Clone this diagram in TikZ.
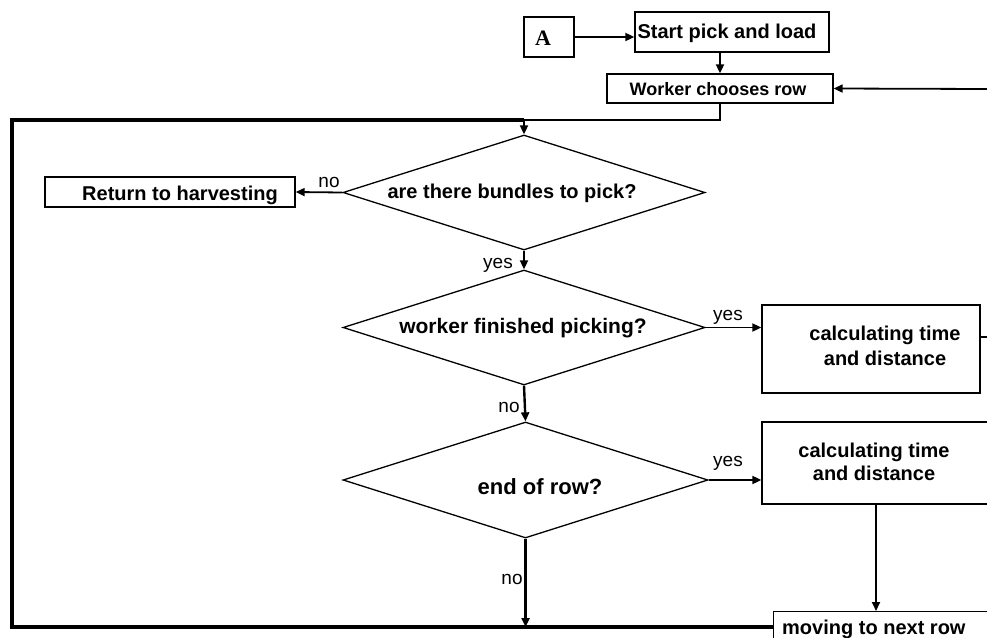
\documentclass[tikz,border=0pt]{standalone}
\usepackage{fontspec}
\setmainfont{Liberation Sans}
\newfontfamily\tms{Liberation Serif}
\usetikzlibrary{shapes.geometric,arrows.meta,calc}
\begin{document}
\begin{tikzpicture}[x=1pt,y=-1pt,
  box/.style={draw, line width=1.3pt, inner sep=0pt},
  dia/.style={draw, diamond, aspect=3.15, inner sep=0pt, line width=1.3pt},
  txt/.style={font=\bfseries\fontsize{20}{25}\selectfont, align=center, inner sep=0pt},
  lbl/.style={font=\fontsize{19}{22}\selectfont, inner sep=0pt},
  arr/.style={line width=1.8pt, -{Triangle[length=9pt,width=8pt]}},
  loopline/.style={line width=3.2pt}]
\useasboundingbox (0,0) rectangle (987,637);
% boxes
\node[box, minimum width=50pt, minimum height=40pt] (a) at (549,37) {};
\node[inner sep=0pt, font=\tms\bfseries\fontsize{22}{25}\selectfont] (at) at (543,38) {A};
\node[box, minimum width=194pt, minimum height=40pt] (st) at (732,32) {};
\node[txt] (stt) at (727,33) {Start pick and load};
\node[box, minimum width=226pt, minimum height=29pt] (wk) at (720,88.5) {};
\node[txt, font=\bfseries\fontsize{18}{22}\selectfont] (wkt) at (718,89) {Worker chooses row};
\node[box, minimum width=250pt, minimum height=30pt] (rt) at (170,192) {};
\node[txt] (rtt) at (180,195) {Return to harvesting};
\node[dia, minimum width=362pt, minimum height=115pt] (d1) at (524,192.5) {};
\node[txt] (d1t) at (512,193) {are there bundles to pick?};
\node[dia, minimum width=362pt, minimum height=115pt] (d2) at (524,327.5) {};
\node[txt, font=\bfseries\fontsize{21}{25}\selectfont] (d2t) at (523,328) {worker finished picking?};
\node[dia, minimum width=365pt, minimum height=116pt] (d3) at (525.5,480) {};
\node[txt, font=\bfseries\fontsize{22}{25}\selectfont] (d3t) at (540,487) {end of row?};
\node[box, minimum width=218pt, minimum height=88pt] (c1) at (871,349) {};
\node[txt] (c1t) at (885,345.5) {calculating time\\ and distance};
\node[box, minimum width=228pt, minimum height=82pt] (c2) at (876,463) {};
\node[txt, font=\bfseries\fontsize{20}{23}\selectfont] (c2t) at (874,461.5) {calculating time\\ and distance};
\node[box, minimum width=230pt, minimum height=40pt, anchor=north west] (mv) at (773,611) {};
\node[txt, anchor=base west] (mvt) at (782,634) {moving to next row};
% coordinates
\coordinate (rin) at (987,89);
\coordinate (lt) at (12,120);
\coordinate (lb) at (12,627);
\coordinate (tk) at (987,337);
% connectors
\draw[arr] (a.east) -- (a.east -| st.west);
\draw[arr] (st.south -| wk.north) -- (wk.north);
\draw[arr] (rin) -- (wk.east);
\draw[loopline] (mv.north west |- lb) -- (lb) -- (lt) -- (lt -| d1.north);
\draw[arr] (wk.south) -- (wk.south |- lt) -| (d1.north);
\draw[arr] (d1.west) -- (rt.east);
\draw[arr] (d1.south) -- (d2.north);
\draw[arr] (d2.east) -- (d2.east -| c1.west);
\draw[arr, line width=2.4pt] (d2.south) -- (d3.north);
\draw[arr] (d3.east) -- (d3.east -| c2.west);
\draw[arr] (c2.south) -- (c2.south |- mv.north);
\draw[arr, line width=3pt] (d3.south) -- (d3.south |- lb);
\draw[line width=1.3pt] (c1.east |- tk) -- (tk);
% labels
\node[lbl] (n1) at (329,182) {no};
\node[lbl] (y1) at (498,265) {yes};
\node[lbl] (y2) at (728,317) {yes};
\node[lbl] (n2) at (509,407) {no};
\node[lbl] (y3) at (728,463) {yes};
\node[lbl] (n3) at (512,579) {no};
\end{tikzpicture}
\end{document}
